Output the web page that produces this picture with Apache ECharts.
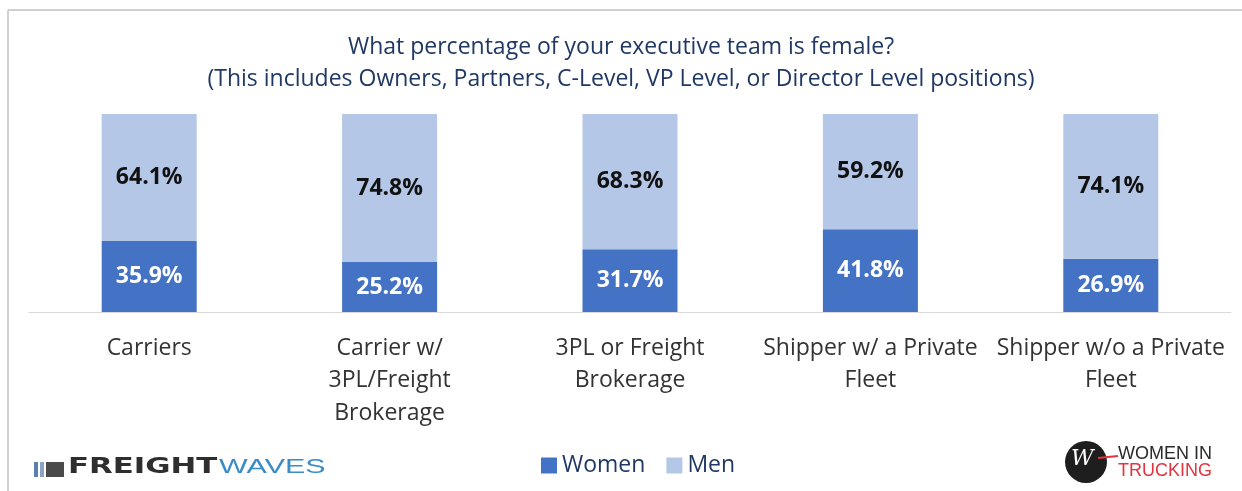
<!DOCTYPE html>
<html>
<head>
<meta charset="utf-8">
<script src="https://cdn.jsdelivr.net/npm/echarts@6/dist/echarts.min.js"></script>
<style>
  html, body { margin: 0; padding: 0; background: #fff; }
  #main { width: 1242px; height: 491px; }
</style>
</head>
<body>
<div id="main"></div>
<script>
const categories = [
  'Carriers',
  'Carrier w/\n3PL/Freight\nBrokerage',
  '3PL or Freight\nBrokerage',
  'Shipper w/ a Private\nFleet',
  'Shipper w/o a Private\nFleet'
];
const women = [35.9, 25.2, 31.7, 41.8, 26.9];
const men = [64.1, 74.8, 68.3, 59.2, 74.1];

const font = 'Open Sans';

const myChart = echarts.init(document.getElementById('main'));

myChart.setOption({
  color: ['#4472C4', '#B4C7E7'],
  animation: false,
  textStyle: { fontFamily: font },
  title: {
    text: 'What percentage of your executive team is female?\n(This includes Owners, Partners, C-Level, VP Level, or Director Level positions)',
    left: 'center',
    top: 26,
    textStyle: {
      color: '#1F3864',
      fontSize: 23,
      fontWeight: 'normal',
      lineHeight: 32,
      fontFamily: font
    }
  },
  legend: {
    bottom: 9,
    left: 536,
    itemWidth: 16,
    itemHeight: 16,
    itemGap: 21,
    icon: 'rect',
    textStyle: { fontSize: 23, color: '#1F3864', fontFamily: font },
    data: ['Women', 'Men']
  },
  grid: { left: 29, right: 11, top: 114, bottom: 179, containLabel: false },
  xAxis: {
    type: 'category',
    data: categories,
    axisTick: { show: false },
    axisLine: { lineStyle: { color: '#D9D9D9', width: 1 } },
    axisLabel: {
      interval: 0,
      fontSize: 23,
      color: '#333',
      lineHeight: 32.5,
      margin: 20,
      fontFamily: font
    }
  },
  yAxis: {
    type: 'value',
    min: 0,
    max: 100,
    show: false,
    splitLine: { show: false }
  },
  series: [
    {
      name: 'Women',
      type: 'bar',
      stack: 'total',
      barWidth: 95,
      data: women,
      label: {
        show: true,
        position: 'inside',
        color: '#fff',
        fontSize: 23,
        fontWeight: 'bold',
        fontFamily: font,
        formatter: p => p.value.toFixed(1) + '%'
      }
    },
    {
      name: 'Men',
      type: 'bar',
      stack: 'total',
      barWidth: 95,
      data: men,
      label: {
        show: true,
        position: 'inside',
        color: '#111',
        fontSize: 23,
        fontWeight: 'bold',
        fontFamily: font,
        formatter: p => p.value.toFixed(1) + '%'
      }
    }
  ],
  graphic: [
    // frame of the screenshot
    { type: 'line', shape: { x1: 8, y1: 10, x2: 1242, y2: 10 }, style: { stroke: '#D0D0D0', lineWidth: 2 } },
    { type: 'line', shape: { x1: 8, y1: 10, x2: 8, y2: 491 }, style: { stroke: '#D0D0D0', lineWidth: 2 } },
    // FreightWaves logo
    { type: 'rect', shape: { x: 34, y: 462, width: 4, height: 15 }, style: { fill: '#5B7FB0' } },
    { type: 'rect', shape: { x: 40, y: 462, width: 4, height: 15 }, style: { fill: '#8AA4C8' } },
    { type: 'rect', shape: { x: 46, y: 462, width: 18, height: 15 }, style: { fill: '#4A4A4A' } },
    {
      type: 'text', x: 68, y: 456, scaleX: 1.4,
      style: { text: 'FREIGHT', font: 'bold 22px "DejaVu Sans"', fill: '#2E2E2E' }
    },
    {
      type: 'text', x: 219, y: 457, scaleX: 1.45,
      style: { text: 'WAVES', font: '21px "Liberation Sans"', fill: '#3A8CC8' }
    },
    // Women in Trucking logo
    { type: 'circle', shape: { cx: 1086, cy: 462, r: 21 }, style: { fill: '#1E1E1E' } },
    {
      type: 'text', left: 1071, top: 448,
      style: { text: 'W', font: 'italic 22px "DejaVu Serif"', fill: '#fff' }
    },
    { type: 'line', shape: { x1: 1098, y1: 458, x2: 1118, y2: 456 }, style: { stroke: '#E2343E', lineWidth: 2 } },
    {
      type: 'text', left: 1118, top: 445,
      style: { text: 'WOMEN IN', font: '18px "Liberation Sans"', fill: '#2A2A2A' }
    },
    {
      type: 'text', left: 1118, top: 462,
      style: { text: 'TRUCKING', font: '18px "Liberation Sans"', fill: '#E2343E' }
    }
  ]
});
</script>
</body>
</html>
